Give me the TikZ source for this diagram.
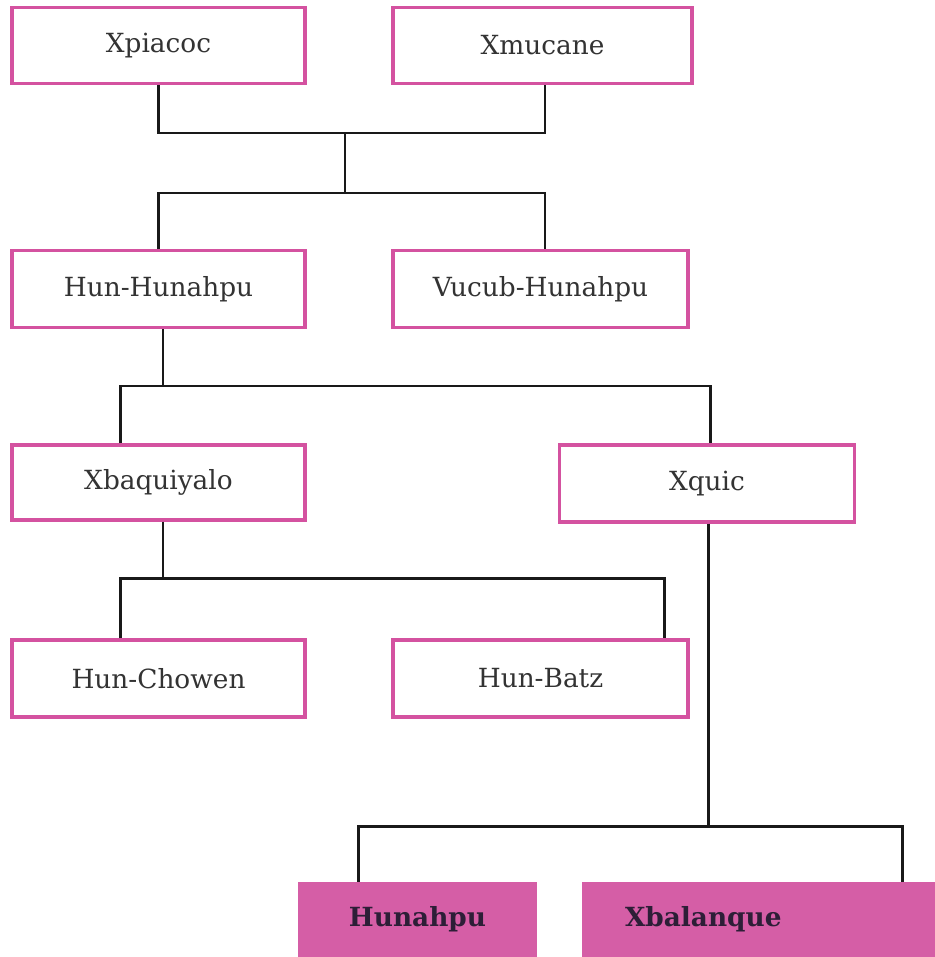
\documentclass[tikz,border=0pt]{standalone}
\usepackage{fontspec}
\setmainfont{DejaVu Serif}
\usetikzlibrary{positioning}
\definecolor{mayaPink}{RGB}{212,82,160}
\definecolor{mayaFill}{RGB}{213,94,166}
\definecolor{darkInk}{RGB}{45,30,55}
\definecolor{lineInk}{RGB}{25,25,25}
\tikzset{
  box/.style={draw=mayaPink, line width=1.9pt, fill=white, align=center, minimum width=5.86cm, minimum height=1.52cm, font=\fontsize{15}{18}\selectfont, text=black!80},
  herobox/.style={fill=mayaFill, draw=none, align=center, minimum width=4.78cm, minimum height=1.5cm, font=\fontsize{15}{18}\selectfont\bfseries, text=darkInk},
  famline/.style={draw=lineInk, line width=1.7pt}
}
\begin{document}
\begin{tikzpicture}[x=0.02cm, y=-0.02cm]
  \useasboundingbox (0,0) rectangle (935,957);
  % grandparents
  \node[box] (xpiacoc) at (158.5,45.5) {Xpiacoc};
  \node[box, minimum width=5.98cm] (xmucane) at (542.5,45.5) {Xmucane};
  % sons
  \node[box, minimum height=1.54cm] (hunhunahpu) at (158.5,289) {Hun-Hunahpu};
  \node[box, minimum width=5.9cm, minimum height=1.54cm] (vucub) at (540.5,289) {Vucub-Hunahpu};
  % wives
  \node[box, minimum height=1.5cm] (xbaquiyalo) at (158.5,482.5) {Xbaquiyalo};
  \node[box, minimum width=5.9cm, minimum height=1.54cm] (xquic) at (707,483.5) {Xquic};
  % grandsons
  \node[box, minimum height=1.54cm] (hunchowen) at (158.5,678.5) {Hun-Chowen};
  \node[box, minimum width=5.9cm, minimum height=1.54cm] (hunbatz) at (540.5,678.5) {Hun-Batz};
  % hero twins
  \node[herobox] (hunahpu) at (417.5,919.5) {Hunahpu};
  \node[herobox, minimum width=7.06cm, text width=5.34cm, inner xsep=0.86cm, align=left] (xbalanque) at (758.5,919.5) {Xbalanque};

  \coordinate (j1) at (345,133);
  \coordinate (j2) at (345,193);
  \coordinate (j3) at (163,386);
  \coordinate (j4) at (163,578);
  \coordinate (j5) at (708,826);

  \draw[famline] (xpiacoc.south) |- (j1) -| ([xshift=0.05cm]xmucane.south);
  \draw[famline] (j1) -- (j2);
  \draw[famline] (hunhunahpu.north) |- (j2) -| ([xshift=0.09cm]vucub.north);
  \draw[famline] (hunhunahpu.south -| j3) -- (j3);
  \draw[famline] ([xshift=-0.77cm]xbaquiyalo.north) |- (j3) -| ([xshift=0.06cm]xquic.north);
  \draw[famline] (xbaquiyalo.south -| j4) -- (j4);
  \draw[famline] ([xshift=-0.77cm]hunchowen.north) |- (j4) -| ([xshift=2.49cm]hunbatz.north);
  \draw[famline] (xquic.south -| j5) -- (j5);
  \draw[famline] ([xshift=-1.19cm]hunahpu.north) |- (j5) -| ([xshift=2.89cm]xbalanque.north);
\end{tikzpicture}
\end{document}
